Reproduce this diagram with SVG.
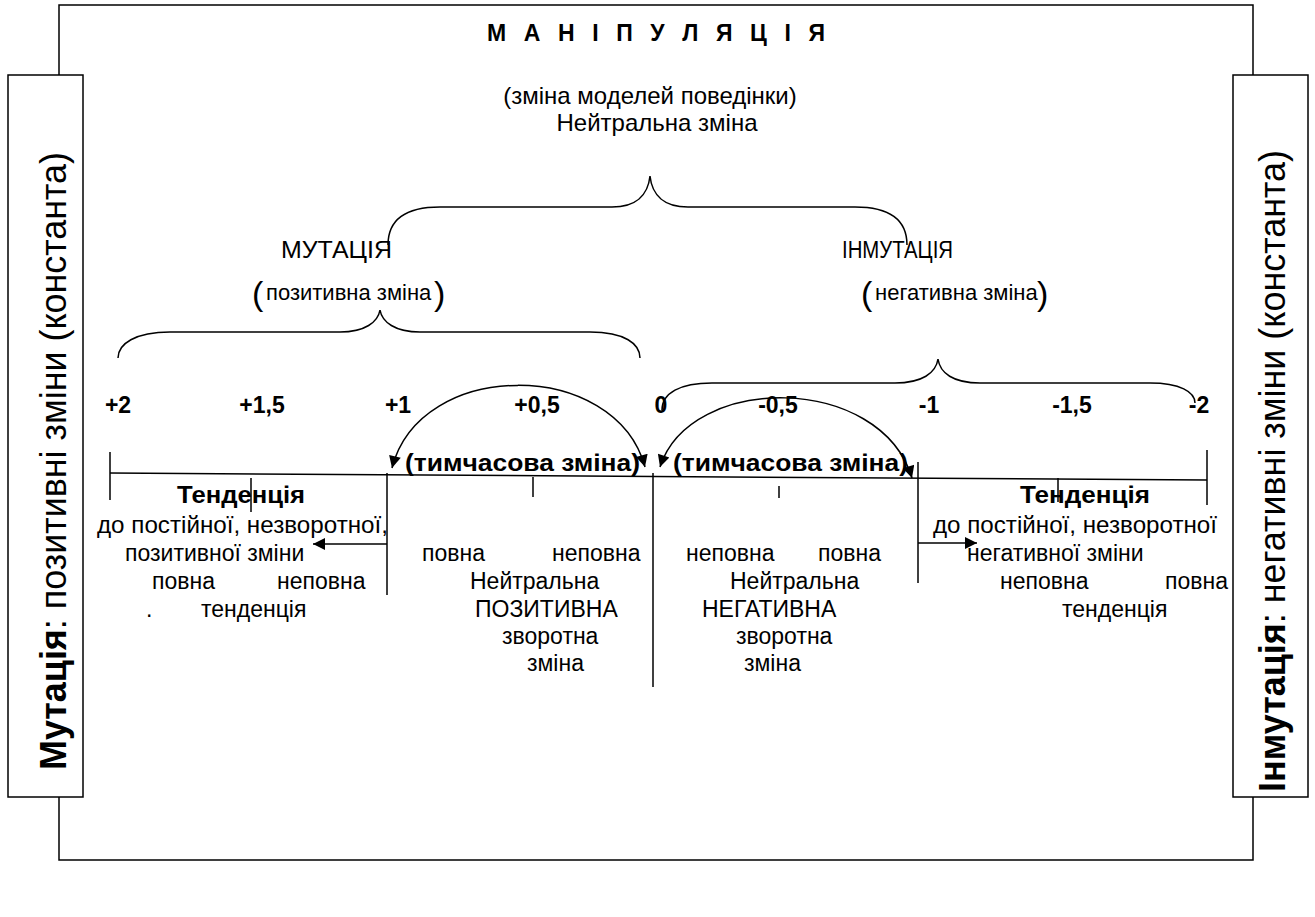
<svg xmlns="http://www.w3.org/2000/svg" width="1315" height="917" viewBox="0 0 1315 917">
<defs>
<marker id="ah" viewBox="0 0 10 10" refX="10" refY="5" markerWidth="16" markerHeight="12" markerUnits="userSpaceOnUse" orient="auto-start-reverse">
<path d="M0,0 L10,5 L0,10 z" fill="#000"/>
</marker>
</defs>
<style>
.t{font-family:"Liberation Sans",Arial,sans-serif;font-size:23px;fill:#000}
.b{font-weight:bold}
.ln{stroke:#000;stroke-width:1.5;fill:none}
.m{text-anchor:middle}
</style>
<rect width="1315" height="917" fill="#fff"/>

<g id="frame" class="ln">
<path d="M59,75 V5 H1253 V75"/>
<path d="M59,797 V860 H1253 V797"/>
</g>

<g id="left-box">
<rect x="8" y="75" width="75" height="722" class="ln"/>
<text class="t" transform="translate(66,770) rotate(-90)" style="font-size:36px" textLength="618" lengthAdjust="spacingAndGlyphs"><tspan class="b">Мутація</tspan>: позитивні зміни (константа)</text>
</g>

<g id="right-box">
<rect x="1233" y="75" width="75" height="722" class="ln"/>
<text class="t" transform="translate(1285,792) rotate(-90)" style="font-size:36px" textLength="642" lengthAdjust="spacingAndGlyphs"><tspan class="b">Інмутація</tspan>: негативні зміни (константа)</text>
</g>

<g id="title">
<text class="t b" x="487" y="41" textLength="338" lengthAdjust="spacing" style="font-size:23px">М А Н І П У Л Я Ц І Я</text>
<text class="t m" x="650" y="104" style="font-size:24px">(зміна моделей поведінки)</text>
<text class="t m" x="657" y="131" style="font-size:24px">Нейтральна зміна</text>
</g>

<g id="braces" class="ln">
<path d="M388,245 C388,220 405,207 440,207 L612,207 C636,207 648,195 650,176 C652,195 664,207 688,207 L855,207 C890,207 907,220 907,245"/>
<path d="M118,358 C118,344 135,332 170,332 L340,332 C365,332 378,322 380,310 C382,322 395,332 420,332 L590,332 C625,332 640,344 640,358"/>
<path d="M662,410 C662,393 680,383 712,383 L895,383 C922,383 936,373 938,359 C940,373 953,383 980,383 L1150,383 C1180,383 1195,392 1195,403"/>
</g>

<g id="mutation">
<text class="t" x="281" y="258" textLength="111" lengthAdjust="spacingAndGlyphs">МУТАЦІЯ</text>
<text class="t" x="252" y="305" style="font-size:34px">(</text>
<text class="t" x="266" y="300" style="font-size:22px">позитивна зміна</text>
<text class="t" x="434" y="305" style="font-size:34px">)</text>
</g>

<g id="inmutation">
<text class="t" x="842" y="258" textLength="111" lengthAdjust="spacingAndGlyphs">ІНМУТАЦІЯ</text>
<text class="t" x="861" y="305" style="font-size:34px">(</text>
<text class="t" x="875" y="300" style="font-size:22px">негативна зміна</text>
<text class="t" x="1037" y="305" style="font-size:34px">)</text>
</g>

<g id="scale-labels" class="t b m">
<text x="118" y="413">+2</text>
<text x="262" y="413">+1,5</text>
<text x="398" y="413">+1</text>
<text x="537" y="413">+0,5</text>
<text x="661" y="413">0</text>
<text x="778" y="413">-0,5</text>
<text x="929" y="413">-1</text>
<text x="1072" y="413">-1,5</text>
<text x="1199" y="413">-2</text>
</g>

<g id="axis" class="ln">
<path d="M110,473 L1207,480"/>
<path d="M110,452 V500"/>
<path d="M1207,450 V505"/>
<path d="M251,478 V512"/>
<path d="M533,477 V497"/>
<path d="M779,486 V498"/>
<path d="M1058,478 V502"/>
<path d="M387,473 V595"/>
<path d="M653,473 V687"/>
<path d="M918,462 V583"/>
</g>

<g id="temp-left">
<text class="t b" x="405" y="471" textLength="235" lengthAdjust="spacingAndGlyphs">(тимчасова зміна)</text>
</g>
<g id="temp-right">
<text class="t b" x="673" y="471" textLength="235" lengthAdjust="spacingAndGlyphs">(тимчасова зміна)</text>
</g>

<g id="left-tendency" class="t">
<text class="b" x="177" y="503" textLength="128" lengthAdjust="spacingAndGlyphs" style="font-size:24px">Тенденція</text>
<text x="97" y="533" textLength="291" lengthAdjust="spacingAndGlyphs">до постійної, незворотної,</text>
<text x="125" y="561">позитивної зміни</text>
<text x="152" y="589">повна</text>
<text x="277" y="589">неповна</text>
<text x="146" y="617">.</text>
<text x="201" y="617">тенденція</text>
</g>

<g id="positive-reverse" class="t">
<text x="422" y="561">повна</text>
<text x="552" y="561">неповна</text>
<text x="470" y="589">Нейтральна</text>
<text x="475" y="617">ПОЗИТИВНА</text>
<text x="502" y="644">зворотна</text>
<text x="527" y="671">зміна</text>
</g>

<g id="negative-reverse" class="t">
<text x="686" y="561">неповна</text>
<text x="818" y="561">повна</text>
<text x="730" y="589">Нейтральна</text>
<text x="702" y="617">НЕГАТИВНА</text>
<text x="736" y="644">зворотна</text>
<text x="744" y="671">зміна</text>
</g>

<g id="right-tendency" class="t">
<text class="b" x="1020" y="503" textLength="130" lengthAdjust="spacingAndGlyphs" style="font-size:24px">Тенденція</text>
<text x="933" y="533" textLength="284" lengthAdjust="spacingAndGlyphs">до постійної, незворотної</text>
<text x="967" y="561">негативної зміни</text>
<text x="1000" y="589">неповна</text>
<text x="1165" y="589">повна</text>
<text x="1062" y="617">тенденція</text>
</g>

<g id="connectors" class="ln">
<path d="M387,544 H313" marker-end="url(#ah)"/>
<path d="M918,543 H977" marker-end="url(#ah)"/>
<path d="M392,468 C420,358 615,358 645,467" marker-start="url(#ah)" marker-end="url(#ah)"/>
<path d="M660,467 C690,373 880,373 912,478" marker-start="url(#ah)" marker-end="url(#ah)"/>
</g>
</svg>
